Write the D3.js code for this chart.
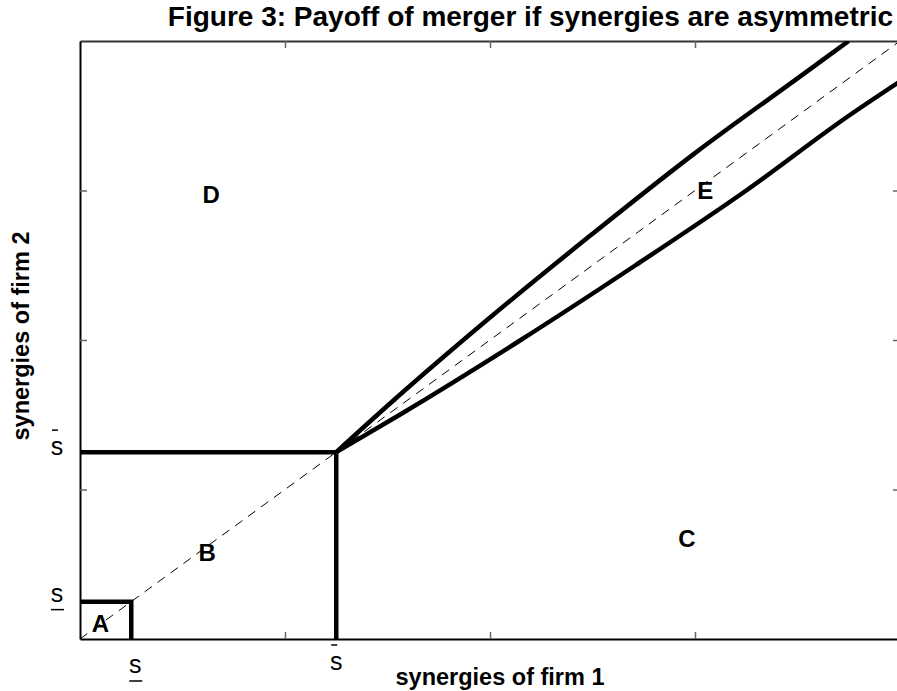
<!DOCTYPE html>
<html>
<head>
<meta charset="utf-8">
<script src="https://cdn.jsdelivr.net/npm/d3@7"></script>
<style>
  body { margin: 0; background: #fff; }
  svg { display: block; font-family: "Liberation Sans", Arial, sans-serif; }
</style>
</head>
<body>
<div id="chart"></div>
<script>
const width = 897;
const height = 691;
const margin = { top: 41, right: -3, bottom: 52, left: 80 };

// thresholds on both axes
const sLow = 0.25;
const sHigh = 1.25;
const gridTicks = [1, 2, 3];

// boundaries of the regions (synergy of firm 1, synergy of firm 2)
const diagonal = [[0, 0], [4, 4]];
const upperCurve = [[1.25, 1.25], [1.5, 1.56], [2, 2.15], [2.5, 2.71], [3, 3.25], [3.5, 3.75], [3.75, 4.0]];
const lowerCurve = [[1.25, 1.25], [1.56, 1.5], [2.15, 2], [2.71, 2.5], [3.25, 3], [3.75, 3.5], [4, 3.73]];

const regionLabels = [
  { name: 'A', x: 0.1, y: 0.1 },
  { name: 'B', x: 0.62, y: 0.58 },
  { name: 'C', x: 2.96, y: 0.67 },
  { name: 'D', x: 0.64, y: 2.97 },
  { name: 'E', x: 3.05, y: 3.0 }
];

const svg = d3.select('#chart')
  .append('svg')
  .attr('width', width)
  .attr('height', height);

const xScale = d3.scaleLinear()
  .domain([0, 4])
  .range([margin.left, width - margin.right]);

const yScale = d3.scaleLinear()
  .domain([0, 4])
  .range([height - margin.bottom, margin.top]);

svg.append('clipPath')
  .attr('id', 'plot-clip')
  .append('rect')
  .attr('x', xScale(0))
  .attr('y', yScale(4))
  .attr('width', xScale(4) - xScale(0))
  .attr('height', yScale(0) - yScale(4));

// frame ticks, pointing inwards
const tickColor = '#666';
const axes = [
  { axis: d3.axisBottom(xScale), t: `translate(0, ${yScale(0)})`, color: '#000' },
  { axis: d3.axisTop(xScale), t: `translate(0, ${yScale(4)})`, color: '#333' },
  { axis: d3.axisLeft(yScale), t: `translate(${xScale(0)}, 0)`, color: '#000' },
  { axis: d3.axisRight(yScale), t: `translate(${xScale(4)}, 0)`, color: '#333' }
];
axes.forEach(a => {
  const g = svg.append('g')
    .attr('transform', a.t)
    .call(a.axis.tickValues(gridTicks).tickSizeInner(-7).tickSizeOuter(0).tickFormat(''));
  g.select('.domain').attr('stroke', a.color).attr('stroke-width', 2);
  g.selectAll('.tick line').attr('stroke', tickColor).attr('stroke-width', 1.5);
});

const plot = svg.append('g').attr('clip-path', 'url(#plot-clip)');

const line = d3.line()
  .x(d => xScale(d[0]))
  .y(d => yScale(d[1]));
const curve = d3.line()
  .x(d => xScale(d[0]))
  .y(d => yScale(d[1]))
  .curve(d3.curveMonotoneX);

plot.append('path')
  .attr('d', line(diagonal))
  .attr('fill', 'none')
  .attr('stroke', '#000')
  .attr('stroke-width', 1)
  .attr('stroke-dasharray', '9,7');

const thick = [
  [[0, sLow], [sLow, sLow], [sLow, 0]],
  [[0, sHigh], [sHigh, sHigh], [sHigh, 0]]
];
thick.forEach(pts => {
  plot.append('path')
    .attr('d', line(pts))
    .attr('fill', 'none')
    .attr('stroke', '#000')
    .attr('stroke-width', 4.5);
});

[upperCurve, lowerCurve].forEach(pts => {
  plot.append('path')
    .attr('d', curve(pts))
    .attr('fill', 'none')
    .attr('stroke', '#000')
    .attr('stroke-width', 4.5);
});

// region letters
svg.selectAll('.region')
  .data(regionLabels)
  .join('text')
  .attr('class', 'region')
  .attr('x', d => xScale(d.x))
  .attr('y', d => yScale(d.y))
  .attr('dy', '0.35em')
  .attr('text-anchor', 'middle')
  .style('font-size', '24px')
  .style('font-weight', 'bold')
  .text(d => d.name);

// s labels with over / under bars
function sLabel(x, y, bar) {
  svg.append('text')
    .attr('x', x)
    .attr('y', y)
    .attr('text-anchor', 'middle')
    .style('font-size', '25px')
    .text('s');
  const by = bar === 'over' ? y - 25 : y + 8;
  const x1 = bar === 'over' ? x - 5 : x - 6;
  const x2 = bar === 'over' ? x + 1 : x + 7;
  svg.append('line')
    .attr('x1', x1).attr('x2', x2)
    .attr('y1', by).attr('y2', by)
    .attr('stroke', '#000')
    .attr('stroke-width', 1.5);
}
sLabel(57, yScale(sHigh) + 3, 'over');
sLabel(57, yScale(sLow), 'under');
sLabel(xScale(sLow) + 4, 673, 'under');
sLabel(xScale(sHigh), 670, 'over');

svg.append('text')
  .attr('x', 893)
  .attr('y', 26)
  .attr('text-anchor', 'end')
  .style('font-size', '28px')
  .style('font-weight', 'bold')
  .text('Figure 3: Payoff of merger if synergies are asymmetric');

svg.append('text')
  .attr('x', 500)
  .attr('y', 685)
  .attr('text-anchor', 'middle')
  .style('font-size', '23.5px')
  .style('font-weight', 'bold')
  .text('synergies of firm 1');

svg.append('text')
  .attr('transform', `translate(29, ${336}) rotate(-90)`)
  .attr('text-anchor', 'middle')
  .style('font-size', '23.5px')
  .style('font-weight', 'bold')
  .text('synergies of firm 2');
</script>
</body>
</html>
